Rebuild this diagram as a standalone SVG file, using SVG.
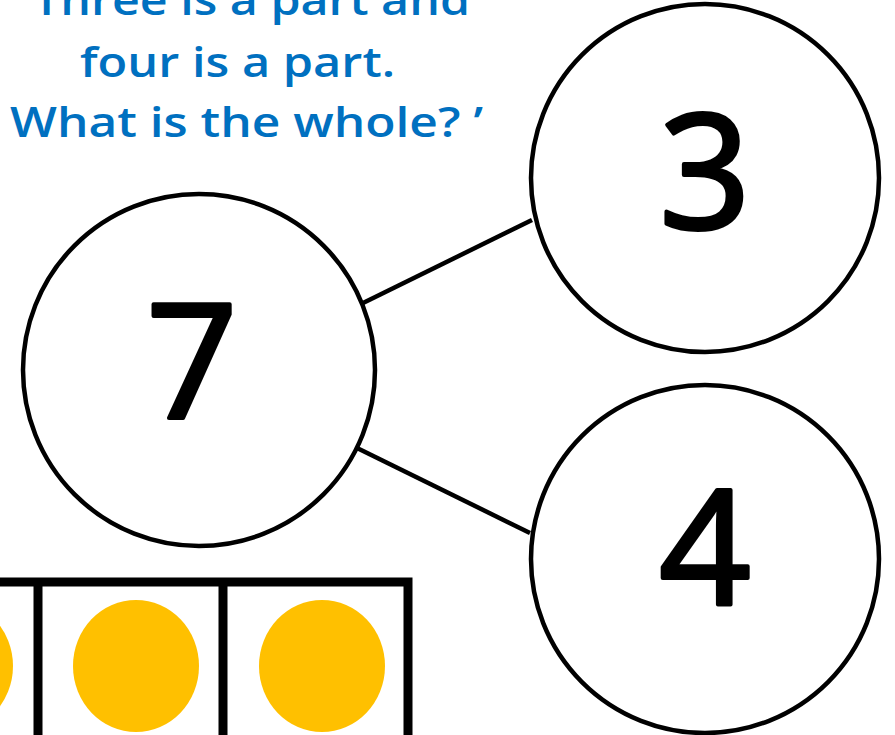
<svg xmlns="http://www.w3.org/2000/svg" width="895" height="735" viewBox="0 0 895 735">
<style>
.q{font-family:"Open Sans","DejaVu Sans",sans-serif;font-weight:600;font-size:42px;fill:#0070C0}
.n{fill:#fff;stroke:#000;stroke-width:4.5}
.d{font-family:"Open Sans","DejaVu Sans",sans-serif;font-weight:normal;font-size:160px;fill:#000;stroke:#000;stroke-width:4;stroke-linejoin:round;text-anchor:middle}
.c{stroke:#000;stroke-width:4.5;fill:none}
.f{stroke:#000;stroke-width:9;fill:none}
.dot{fill:#FFC000}
</style>
<rect width="895" height="735" fill="#fff"/>
<text class="q" x="33" y="15" textLength="437" lengthAdjust="spacingAndGlyphs">Three is a part and</text>
<text class="q" x="80" y="77" textLength="315" lengthAdjust="spacingAndGlyphs">four is a part.</text>
<text class="q" x="10" y="137" textLength="473" lengthAdjust="spacingAndGlyphs">What is the whole? ’</text>
<g id="connectors">
<line class="c" x1="363" y1="303" x2="532" y2="220"/>
<line class="c" x1="357" y1="448" x2="530" y2="533"/>
</g>
<g id="whole"><circle class="n" cx="199" cy="370" r="176"/><text class="d" x="192" y="418">7</text></g>
<g id="part3"><circle class="n" cx="705" cy="178" r="174"/><text class="d" x="705" y="228">3</text></g>
<g id="part4"><circle class="n" cx="705" cy="559" r="174"/><text class="d" x="705" y="604">4</text></g>
<g id="tenframe">
<path class="f" d="M0 582 H408 V735 M38 582 V735 M223 582 V735"/>
<ellipse class="dot" cx="-50" cy="666" rx="63" ry="66"/>
<ellipse class="dot" cx="136" cy="666" rx="63" ry="66"/>
<ellipse class="dot" cx="322" cy="666" rx="63" ry="66"/>
</g>
</svg>
